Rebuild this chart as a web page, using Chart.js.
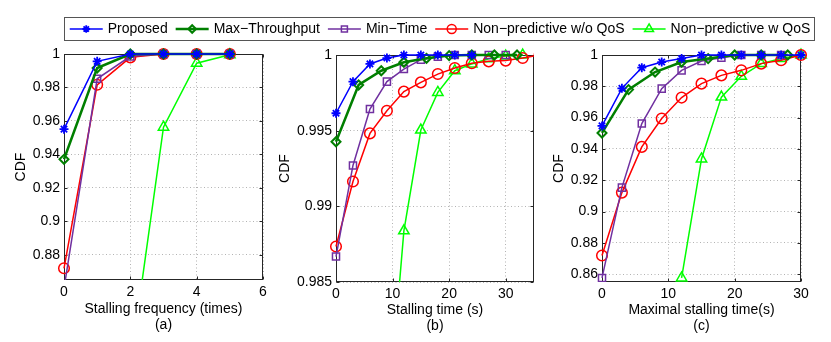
<!DOCTYPE html>
<html>
<head>
<meta charset="utf-8">
<script src="https://cdn.jsdelivr.net/npm/chart.js@4.4.0/dist/chart.umd.min.js"></script>
<style>
  body { margin: 0; background: #fff; }
  #wrap { position: relative; width: 831px; height: 342px; overflow: hidden; }
  canvas { position: absolute; top: 0; }
</style>
</head>
<body>
<div id="wrap">
  <canvas id="panelA" width="285" height="342" style="left:0"></canvas>
  <canvas id="panelB" width="285" height="342" style="left:272px"></canvas>
  <canvas id="panelC" width="291" height="342" style="left:540px"></canvas>
  <canvas id="legendCanvas" width="831" height="130" style="left:0"></canvas>
</div>
<script>
// Series (same order in every panel)
const seriesNames = ['Proposed', 'Max\u2212Throughput', 'Min\u2212Time', 'Non\u2212predictive w/o QoS', 'Non\u2212predictive w QoS'];

// (a) Stalling frequency
const freqX = [0, 1, 2, 3, 4, 5];
const freqQosX = [2, 3, 4, 5];
const freqProposed = [0.9551, 0.9956, 1, 1, 1, 1];
const freqMaxThroughput = [0.9371, 0.9916, 1, 1, 1, 1];
const freqMinTime = [0.860, 0.9852, 0.9986, 1, 1, 1];
const freqNoQos = [0.872, 0.9816, 0.998, 1, 1, 1];
const freqQos = [0.814, 0.9563, 0.9945, 0.9995];
const freqXTicks = [0, 2, 4, 6];
const freqYTicks = [0.88, 0.9, 0.92, 0.94, 0.96, 0.98, 1];

// (b) Stalling time
const timeX = [0, 3, 6, 9, 12, 15, 18, 21, 24, 27, 30, 33, 36];
const timeX4 = [0, 4, 8, 12, 16, 20, 24, 28, 32];
const timeQosX = [9, 12, 15, 18, 21, 24, 27, 30, 33];
const timeProposed = [0.99615, 0.99824, 0.99941, 0.9998, 1, 1, 1, 1, 1];
const timeMaxThroughput = [0.99427, 0.99802, 0.99896, 0.99952, 0.99978, 0.99996, 1, 1, 1];
const timeMinTime = [0.98668, 0.9927, 0.99643, 0.99824, 0.99907, 0.99969, 0.99989, 1, 1, 1, 1];
const timeNoQos = [0.98735, 0.99164, 0.99482, 0.99632, 0.99758, 0.99819, 0.99874, 0.99914, 0.99945, 0.99958, 0.99963, 0.9998, 1];
const timeQos = [0.97503, 0.98838, 0.99504, 0.99753, 0.99896, 0.99941, 0.99975, 0.99993, 1];
const timeXTicks = [0, 10, 20, 30];
const timeYTicks = [0.985, 0.99, 0.995, 1];

// (c) Maximal stalling time
const maxX = [0, 3, 6, 9, 12, 15, 18, 21, 24, 27, 30];
const maxX4 = [0, 4, 8, 12, 16, 20, 24, 28];
const maxQosX = [12, 15, 18, 21, 24, 27, 30];
const maxProposed = [0.9547, 0.9787, 0.9919, 0.9955, 0.9977, 1, 1, 1, 1, 1, 1];
const maxMaxThroughput = [0.9502, 0.9779, 0.9891, 0.9955, 0.9977, 1, 1, 1];
const maxMinTime = [0.8576, 0.9153, 0.9562, 0.9785, 0.9902, 0.9962, 0.9983, 1, 1, 1];
const maxNoQos = [0.8719, 0.9121, 0.9413, 0.9594, 0.9728, 0.9817, 0.987, 0.9902, 0.9945, 0.9966, 1];
const maxQos = [0.8576, 0.9336, 0.9731, 0.9864, 0.9945, 0.9977, 1];
const maxXTicks = [0, 10, 20, 30];
const maxYTicks = [0.86, 0.88, 0.9, 0.92, 0.94, 0.96, 0.98, 1];

// styles
const seriesColors = ['#0000ff', '#007f00', '#7030a0', '#ff0000', '#00ff00'];
const seriesWidths = [1.5, 2.5, 1.5, 1.5, 1.5];
const seriesMarkers = ['star', 'rectRot', 'rect', 'circle', 'triangle'];
const markerRadius = [4.5, 4.5, 5, 5.3, 6];
const markerWidth = [1.8, 2, 1.5, 1.5, 1.5];

Chart.defaults.font.family = "'Liberation Sans', Arial, sans-serif";
Chart.defaults.font.size = 14;
Chart.defaults.color = '#000';

function pts(xs, ys) {
  return ys.map((y, k) => ({ x: xs[k], y: y }));
}

// box + inner tick marks around the plot area
const framePlugin = {
  id: 'frame',
  beforeDatasetsDraw(chart) {
    const { ctx, chartArea: a, scales } = chart;
    const l = Math.round(a.left) + 0.5, r = Math.round(a.right) - 0.5;
    const t = Math.round(a.top) + 0.5, b = Math.round(a.bottom) - 0.5;
    ctx.save();
    ctx.strokeStyle = '#262626';
    ctx.lineWidth = 1;
    ctx.strokeRect(l, t, r - l, b - t);
    ctx.beginPath();
    scales.x.ticks.forEach(tk => {
      const px = Math.round(scales.x.getPixelForValue(tk.value)) + 0.5;
      ctx.moveTo(px, b); ctx.lineTo(px, b - 3);
      ctx.moveTo(px, t); ctx.lineTo(px, t + 3);
    });
    scales.y.ticks.forEach(tk => {
      const py = Math.round(scales.y.getPixelForValue(tk.value)) + 0.5;
      ctx.moveTo(l, py); ctx.lineTo(l + 3, py);
      ctx.moveTo(r, py); ctx.lineTo(r - 3, py);
    });
    ctx.stroke();
    ctx.restore();
  }
};

function drawPanel(id, p) {
  new Chart(document.getElementById(id), {
    type: 'line',
    data: {
      datasets: p.series.map((s, i) => ({
        label: seriesNames[i],
        data: pts(s[0], s[1]),
        borderColor: seriesColors[i],
        borderWidth: seriesWidths[i],
        pointStyle: seriesMarkers[i],
        pointRadius: markerRadius[i],
        pointBorderWidth: markerWidth[i],
        pointBorderColor: seriesColors[i],
        pointBackgroundColor: 'rgba(0,0,0,0)',
        tension: 0,
        clip: p.clip
      }))
    },
    options: {
      responsive: false,
      animation: false,
      devicePixelRatio: 1,
      events: [],
      layout: { padding: { top: p.top, right: p.right, left: 0, bottom: 0 } },
      plugins: { legend: { display: false }, tooltip: { enabled: false } },
      scales: {
        x: {
          type: 'linear',
          min: p.xMin, max: p.xMax,
          afterBuildTicks: s => { s.ticks = p.xTicks.map(v => ({ value: v })); },
          afterFit: s => { s.height = p.xAxisH; },
          ticks: { padding: 4, maxRotation: 0, callback: v => String(v) },
          grid: { color: '#b3b3b3', drawTicks: false },
          border: { display: false, dash: [1, 2.5] },
          title: { display: true, text: [p.xTitle, p.sub], padding: { top: 0, bottom: p.subPad } }
        },
        y: {
          type: 'linear',
          min: p.yMin, max: p.yMax,
          afterBuildTicks: s => { s.ticks = p.yTicks.map(v => ({ value: v })); },
          afterFit: s => { s.width = p.yAxisW; },
          ticks: { padding: 4, callback: v => String(Math.round(v * 10000) / 10000) },
          grid: { color: '#b3b3b3', drawTicks: false },
          border: { display: false, dash: [1, 2.5] },
          title: { display: true, text: 'CDF', padding: { top: p.cdfPad, bottom: 0 } }
        }
      }
    },
    plugins: [framePlugin]
  });
}

drawPanel('panelA', {
  series: [[freqX, freqProposed], [freqX, freqMaxThroughput], [freqX, freqMinTime], [freqX, freqNoQos], [freqQosX, freqQos]],
  xMin: 0, xMax: 6, yMin: 0.865, yMax: 1,
  xTicks: freqXTicks, yTicks: freqYTicks,
  xTitle: 'Stalling frequency (times)', sub: '(a)',
  top: 54, right: 22, xAxisH: 62, yAxisW: 64, subPad: 8, cdfPad: 13,
  clip: { left: 8, top: 8, right: 8, bottom: 0 }
});

drawPanel('panelB', {
  series: [[timeX, timeProposed], [timeX4, timeMaxThroughput], [timeX, timeMinTime], [timeX, timeNoQos], [timeQosX, timeQos]],
  xMin: 0, xMax: 35, yMin: 0.985, yMax: 1,
  xTicks: timeXTicks, yTicks: timeYTicks,
  xTitle: 'Stalling time (s)', sub: '(b)',
  top: 55, right: 23, xAxisH: 60, yAxisW: 64, subPad: 7, cdfPad: 5,
  clip: { left: 8, top: 8, right: 0, bottom: 0 }
});

drawPanel('panelC', {
  series: [[maxX, maxProposed], [maxX4, maxMaxThroughput], [maxX, maxMinTime], [maxX, maxNoQos], [maxQosX, maxQos]],
  xMin: 0, xMax: 30, yMin: 0.855, yMax: 1,
  xTicks: maxXTicks, yTicks: maxYTicks,
  xTitle: 'Maximal stalling time(s)', sub: '(c)',
  top: 55, right: 30, xAxisH: 60, yAxisW: 62, subPad: 7, cdfPad: 10.5,
  clip: { left: 8, top: 8, right: 8, bottom: 0 }
});

// shared legend: library lays out the items, plugin draws line samples, markers and the box
const legendFrame = {
  id: 'legendFrame',
  afterDraw(chart) {
    const boxes = chart.legend.legendHitBoxes;
    if (!boxes || !boxes.length) return;
    const ctx = chart.ctx;
    const first = boxes[0], last = boxes[boxes.length - 1];
    const cy = first.top + 7;
    ctx.save();
    ctx.strokeStyle = '#555';
    ctx.lineWidth = 1;
    const bl = Math.round(first.left - 6) + 0.5;
    const br = Math.round(last.left + last.width + 4) + 0.5;
    ctx.strokeRect(bl, Math.round(cy - 12.5) + 0.5, br - bl, 23);
    boxes.forEach((hb, i) => {
      const y = hb.top + 7;
      ctx.strokeStyle = seriesColors[i];
      ctx.lineWidth = seriesWidths[i];
      ctx.beginPath();
      ctx.moveTo(hb.left, y);
      ctx.lineTo(hb.left + 33, y);
      ctx.stroke();
      if (Chart.helpers && Chart.helpers.drawPoint) {
        ctx.fillStyle = 'rgba(0,0,0,0)';
        ctx.lineWidth = markerWidth[i];
        Chart.helpers.drawPoint(ctx, {
          pointStyle: seriesMarkers[i], radius: markerRadius[i] * 0.85,
          rotation: 0, borderWidth: markerWidth[i]
        }, hb.left + 16.5, y);
      }
    });
    ctx.restore();
  }
};

new Chart(document.getElementById('legendCanvas'), {
  type: 'line',
  data: { datasets: seriesNames.map((n, i) => ({ label: n, data: [], borderColor: seriesColors[i] })) },
  options: {
    responsive: false,
    animation: false,
    devicePixelRatio: 1,
    events: [],
    layout: { padding: { top: 14, left: 49, right: 0, bottom: 0 } },
    scales: { x: { display: false }, y: { display: false } },
    plugins: {
      tooltip: { enabled: false },
      legend: {
        position: 'top',
        labels: {
          boxWidth: 31,
          boxHeight: 14,
          padding: 8,
          color: '#000',
          font: { size: 14 },
          generateLabels: chart => chart.data.datasets.map((d, i) => ({
            text: d.label,
            fillStyle: 'rgba(0,0,0,0)',
            strokeStyle: 'rgba(0,0,0,0)',
            lineWidth: 0,
            hidden: false,
            datasetIndex: i
          }))
        }
      }
    }
  },
  plugins: [legendFrame]
});
</script>
</body>
</html>
